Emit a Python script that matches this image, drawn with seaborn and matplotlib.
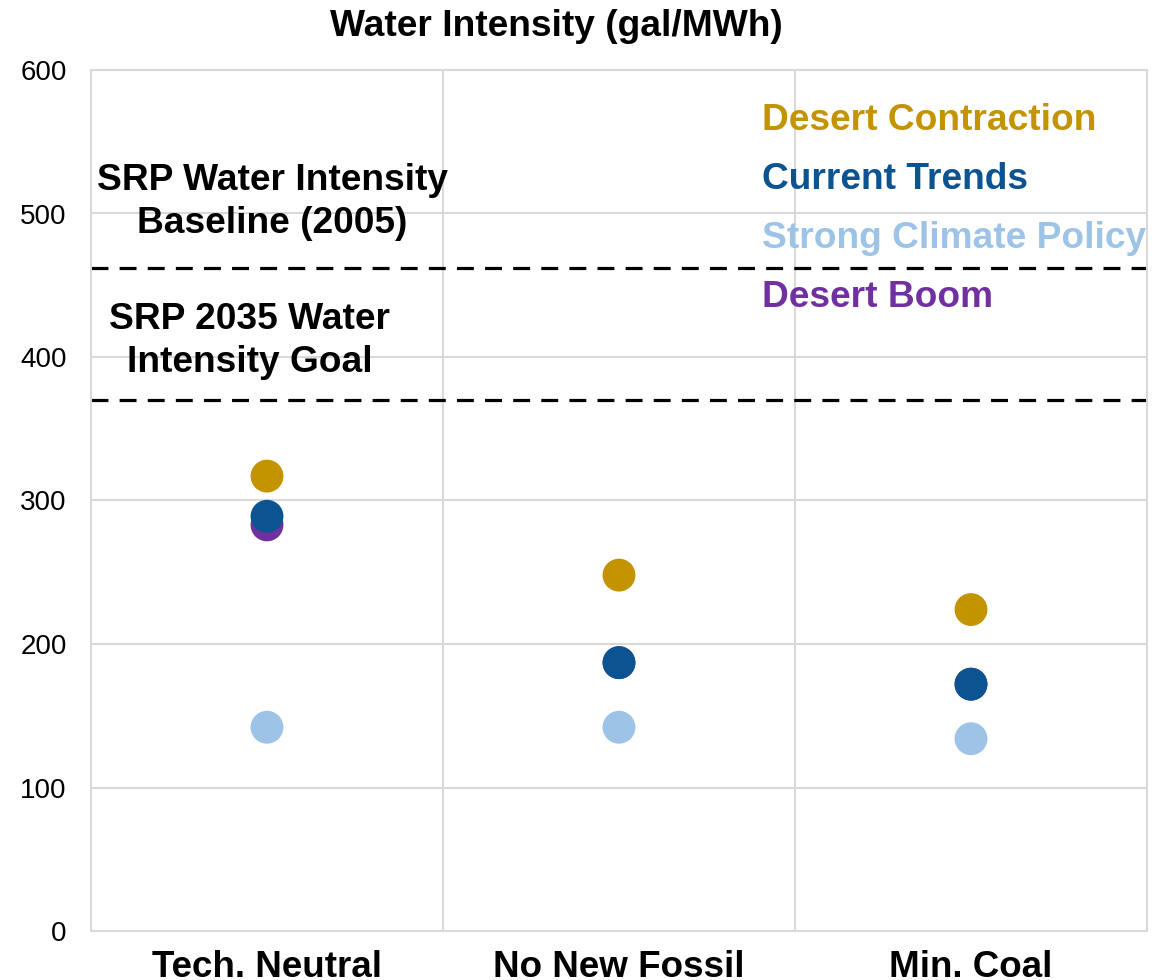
import matplotlib
matplotlib.use("Agg")
import matplotlib.pyplot as plt
import seaborn as sns
import pandas as pd

categories = ["Tech. Neutral", "No New Fossil", "Min. Coal"]
scenarios = ["Desert Contraction", "Current Trends", "Strong Climate Policy", "Desert Boom"]
desert_contraction = [317, 248, 224]
current_trends = [289, 187, 172]
strong_climate_policy = [142, 142, 134]
desert_boom = [283, 187, 172]
baseline_2005 = 462
goal_2035 = 370
colors = {"Desert Contraction": "#C39300", "Current Trends": "#0B5391",
          "Strong Climate Policy": "#9DC3E6", "Desert Boom": "#7030A0"}

sns.set_theme(style="white")
plt.rcParams["font.family"] = ["Liberation Sans", "DejaVu Sans"]
plt.rcParams["text.color"] = "black"
plt.rcParams["xtick.color"] = "black"
plt.rcParams["ytick.color"] = "black"

# draw order: Desert Boom behind Current Trends
rows = []
for name, vals in [("Strong Climate Policy", strong_climate_policy),
                   ("Desert Contraction", desert_contraction),
                   ("Desert Boom", desert_boom),
                   ("Current Trends", current_trends)]:
    for c, v in zip(categories, vals):
        rows.append({"Category": c, "Scenario": name, "Value": v})
df = pd.DataFrame(rows)

fig = plt.figure(figsize=(11.7, 9.8), dpi=100)
ax = fig.add_axes([91/1170, 1-931/980, (1147-91)/1170, (931-70)/980])

sns.scatterplot(data=df, x="Category", y="Value", hue="Scenario", palette=colors,
                s=560, linewidth=0, ax=ax, legend=False, zorder=3)

ax.set_xlim(-0.5, 2.5)
ax.set_ylim(0, 600)
ax.set_yticks([0, 100, 200, 300, 400, 500, 600])
ax.set_xticks(range(len(categories)))
ax.set_xticklabels(categories, fontsize=26.5, fontweight="bold", color="black")
ax.set_xticks([0.5, 1.5], minor=True)
ax.tick_params(axis="y", labelsize=20, length=0, pad=17.5, labelcolor="black")
ax.tick_params(axis="x", length=0, pad=14, labelcolor="black")
ax.tick_params(axis="x", which="minor", length=0)
ax.set_xlabel("")
ax.set_ylabel("")
ax.grid(axis="y", which="major", color="#D9D9D9", linewidth=1.5)
ax.grid(axis="x", which="minor", color="#D9D9D9", linewidth=1.5)
ax.set_axisbelow(True)
for sp in ax.spines.values():
    sp.set_visible(True)
    sp.set_color("#D9D9D9")
    sp.set_linewidth(1.5)

ax.axhline(baseline_2005, color="black", linewidth=2.3, dashes=(5.3, 3.5), zorder=2)
ax.axhline(goal_2035, color="black", linewidth=2.3, dashes=(5.3, 3.5), zorder=2)

ax.text(0.015, 508, "SRP Water Intensity\nBaseline (2005)", ha="center", va="center",
        fontsize=26.7, fontweight="bold", linespacing=1.3, color="black")
ax.text(-0.05, 411, "SRP 2035 Water\nIntensity Goal", ha="center", va="center",
        fontsize=26.7, fontweight="bold", linespacing=1.3, color="black")

ys = [0.941, 0.873, 0.804, 0.736]
for name, y in zip(scenarios, ys):
    ax.text(0.635, y, name, transform=ax.transAxes, ha="left", va="center",
            fontsize=26.7, fontweight="bold", color=colors[name])

fig.text((330+783)/2/1170, 1-27/980, "Water Intensity (gal/MWh)", ha="center", va="center",
         fontsize=26.7, fontweight="bold", color="black")

fig.savefig("out.png", dpi=100)
